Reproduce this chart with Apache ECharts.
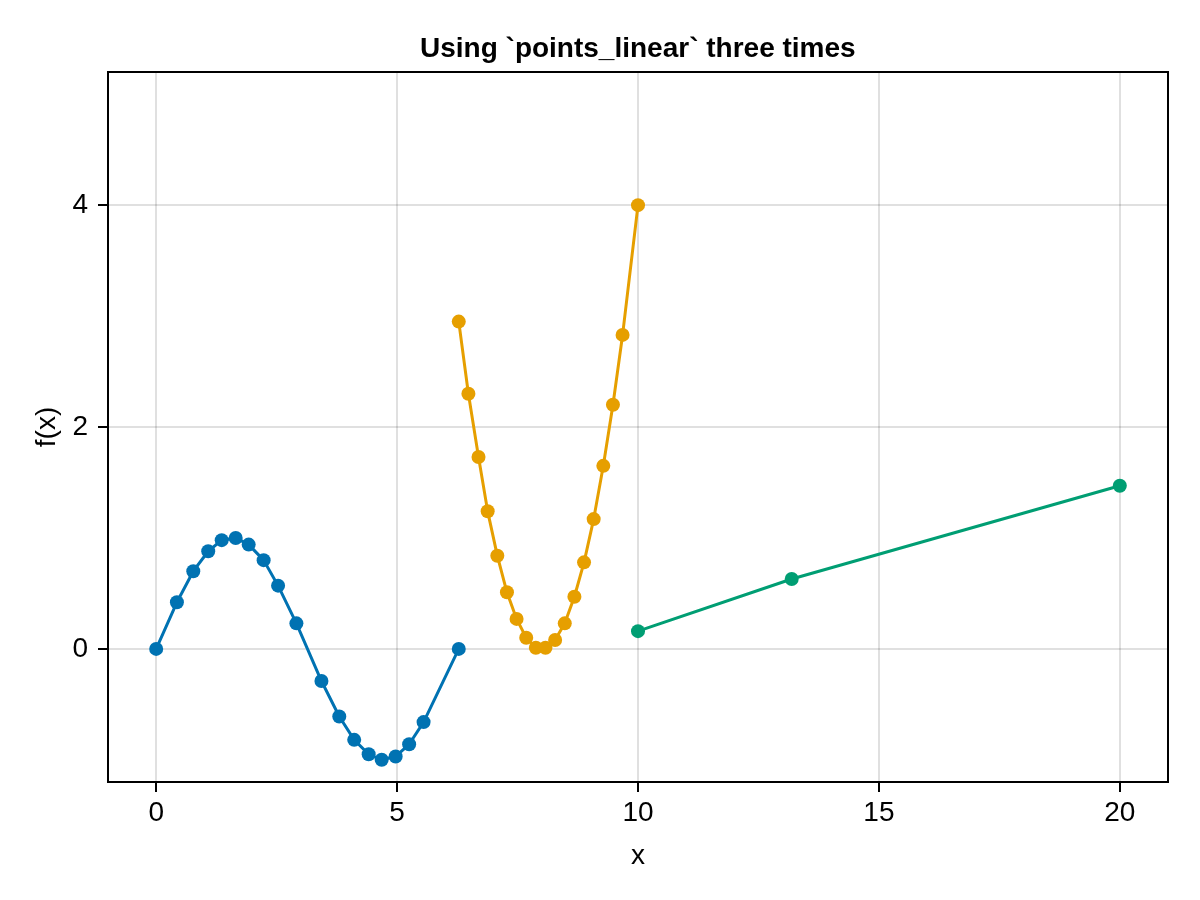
<!DOCTYPE html>
<html>
<head>
<meta charset="utf-8">
<title>points_linear</title>
<script src="https://cdn.jsdelivr.net/npm/echarts@6/dist/echarts.min.js"></script>
<style>
    html, body { margin: 0; padding: 0; background: #fff; }
    #chart { width: 1200px; height: 900px; }
</style>
</head>
<body>
<div id="chart"></div>
<script>
"use strict";
// three runs of points_linear
var blueX = [0, 0.43, 0.77, 1.08, 1.36, 1.65, 1.92, 2.23, 2.53, 2.91, 3.43, 3.80, 4.11, 4.41, 4.68, 4.97, 5.25, 5.55, 6.28];
var blueY = [0, 0.42, 0.70, 0.88, 0.98, 1.00, 0.94, 0.80, 0.57, 0.23, -0.29, -0.61, -0.82, -0.95, -1.00, -0.97, -0.86, -0.66, 0];
var orangeX = [6.28, 6.48, 6.69, 6.88, 7.08, 7.28, 7.48, 7.68, 7.88, 8.08, 8.28, 8.48, 8.68, 8.88, 9.08, 9.28, 9.48, 9.68, 10];
var orangeY = [2.95, 2.30, 1.73, 1.24, 0.84, 0.51, 0.27, 0.10, 0.01, 0.01, 0.08, 0.23, 0.47, 0.78, 1.17, 1.65, 2.20, 2.83, 4.00];
var greenX = [10, 13.19, 20];
var greenY = [0.16, 0.63, 1.47];
var xTicks = [0, 5, 10, 15, 20];
var yTicks = [0, 2, 4];

var titleText = 'Using `points_linear` three times';
var font = '"Liberation Sans", "DejaVu Sans", sans-serif';

function pairs(xs, ys) {
    var out = [];
    for (var i = 0; i < xs.length; i++) {
        out.push([xs[i], ys[i]]);
    }
    return out;
}

function makeSeries(name, xs, ys, color) {
    return {
        name: name,
        type: 'line',
        data: pairs(xs, ys),
        symbol: 'circle',
        symbolSize: 14,
        showSymbol: true,
        lineStyle: { color: color, width: 3 },
        itemStyle: { color: color },
        emphasis: { disabled: true },
        animation: false
    };
}

function axisBase(ticks) {
    return {
        type: 'value',
        axisLine: { show: true, onZero: false, lineStyle: { color: '#000', width: 2 } },
        axisTick: { show: true, inside: false, length: 10, customValues: ticks, lineStyle: { color: '#000', width: 2 } },
        axisLabel: { customValues: ticks, color: '#000', fontSize: 28, fontFamily: font },
        splitLine: { show: true, lineStyle: { color: 'rgba(0,0,0,0.12)', width: 2 } },
        nameTextStyle: { color: '#000', fontSize: 28, fontFamily: font }
    };
}

var chart = echarts.init(document.getElementById('chart'), null, { renderer: 'canvas' });

var xAxis = axisBase(xTicks);
xAxis.min = -1;
xAxis.max = 21;
xAxis.name = 'x';
xAxis.nameLocation = 'middle';
xAxis.nameGap = 60;
xAxis.axisLabel.margin = 17;

var yAxis = axisBase(yTicks);
yAxis.min = -1.2;
yAxis.max = 5.2;
yAxis.name = 'f(x)';
yAxis.nameLocation = 'middle';
yAxis.nameGap = 46;
yAxis.axisLabel.margin = 20;

chart.setOption({
    backgroundColor: '#fff',
    animation: false,
    graphic: [{
        type: 'text',
        left: 638 - 218,
        top: 35,
        style: {
            text: titleText,
            fill: '#000',
            font: 'bold 28px ' + font
        }
    }],
    grid: {
        left: 108,
        right: 32,
        top: 72,
        bottom: 118,
        show: true,
        borderColor: '#000',
        borderWidth: 2,
        backgroundColor: 'transparent'
    },
    xAxis: xAxis,
    yAxis: yAxis,
    series: [
        makeSeries('sin', blueX, blueY, '#0072B2'),
        makeSeries('square', orangeX, orangeY, '#E69F00'),
        makeSeries('sqrt', greenX, greenY, '#009E73')
    ]
});
</script>
</body>
</html>
